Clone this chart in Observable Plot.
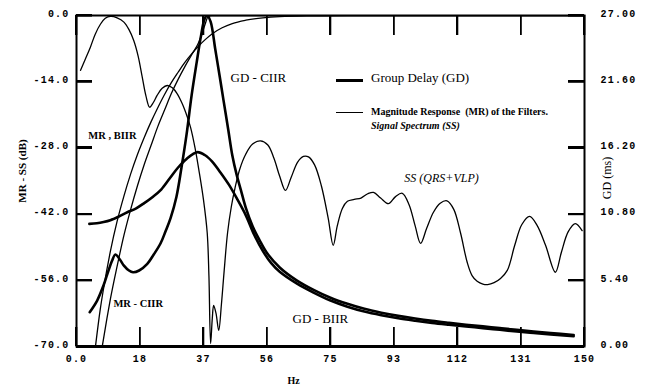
<!DOCTYPE html>
<html><head><meta charset="utf-8">
<script src="https://cdn.jsdelivr.net/npm/d3@7"></script>
<script src="https://cdn.jsdelivr.net/npm/@observablehq/plot@0.6"></script>
<style>
html,body{margin:0;padding:0;background:#fff;}
#wrap{position:relative;width:647px;height:389px;overflow:hidden;}
#wrap svg{position:absolute;left:0;top:0;}
g[aria-label="x-axis tick label"] text, g[aria-label="y-axis tick label"] text{letter-spacing:1.2px;}
.lg{position:absolute;font-family:'Liberation Serif','Times New Roman',serif;color:#000;white-space:pre;}
.ln{position:absolute;background:#000;}
</style></head><body>
<div id="wrap"></div>
<script>
// ---------- tick values / labels ----------
const xTicks = [0, 18.75, 37.5, 56.25, 75, 93.75, 112.5, 131.25, 150];
const xTickLabels = ["0.0", "18", "37", "56", "75", "93", "112", "131", "150"];
const dbTicks = [-70, -56, -42, -28, -14, 0];
const dbTickLabels = ["-70.0", "-56.0", "-42.0", "-28.0", "-14.0", "0.0"];
const gdTicks = [0, 5.4, 10.8, 16.2, 21.6, 27];
const gdTickLabels = ["0.00", "5.40", "10.80", "16.20", "21.60", "27.00"];

// ---------- Signal spectrum SS (QRS+VLP), dB ----------
const ssHz = [1.2,2.5,4.1,5.5,7.1,8.5,10,12,14,15.5,16.9,18.2,19.4,20.5,21.6,22.7,23.8,25.3,26.8,28.3,29.7,31.2,32.7,33.7,35,36.3,37.5,38.6,39.1,39.6,40.1,40.5,41.2,42.0,42.8,43.6,44.6,45.7,46.8,48.2,50,52,54.3,56.5,58.3,60,61.7,63.4,65.3,67,68.5,70.3,72.3,74.3,75.8,77,78.5,80,82,84,86,87.7,89.8,92.1,94.2,96.2,98.2,100,101.6,103.4,105.4,107.4,109.4,111.4,113.4,115.4,116.8,118.3,120,121.4,123.3,125.2,127.2,129.4,131.5,133.8,136,138.5,141.4,143.2,145.2,147.3,149.3];
const ssDb = [-11.6,-9.4,-6.7,-4.0,-1.8,-0.6,-0.2,-0.5,-1.4,-3.0,-5.3,-8.6,-13.0,-17.0,-19.4,-18.4,-16.9,-15.4,-14.8,-15.3,-16.5,-18.6,-21.4,-23.7,-28.0,-33.4,-39.0,-46.0,-55.0,-69.4,-64.0,-61.3,-63.0,-66.6,-61.0,-54.0,-46.0,-40.5,-36.5,-32.5,-29.3,-27.2,-26.5,-27.4,-30.2,-34.0,-37.0,-34.2,-31.0,-29.8,-29.9,-31.6,-36.0,-42.8,-48.6,-44.5,-40.8,-39.3,-38.9,-38.6,-37.7,-37.4,-38.6,-39.8,-38.3,-37.6,-40.0,-44.5,-48.2,-45.0,-41.6,-39.7,-39.2,-41.0,-46.0,-52.3,-55.0,-56.2,-56.8,-56.9,-56.5,-55.6,-53.9,-48.6,-44.2,-42.5,-44.4,-48.6,-54.3,-50.0,-45.7,-44.0,-45.5];

// ---------- Magnitude responses, dB ----------
const mrBiirHz = [5.6,7,8,10,12,14,16,18,20,22,24,26,28,30,32,34,36,38,40,43,46,50,55,60,70,80,150];
const mrBiirDb = [-70,-62.2,-57.7,-49.9,-43.5,-38.2,-33.5,-29.4,-25.8,-22.5,-19.5,-16.7,-14.2,-12.0,-9.9,-8.1,-6.5,-5.1,-3.9,-2.6,-1.7,-1.0,-0.5,-0.24,-0.07,0,0];
const mrCiirHz = [7.6,9,10,12,14,16,18,20,22,24,26,28,30,32,34,36,37,38,38.8,40,150];
const mrCiirDb = [-70,-64,-60,-53,-46.5,-41,-36,-31.5,-27.5,-23.5,-20,-16.5,-13.5,-10.8,-8.3,-5.8,-4.0,-1.8,-0.3,0,0];

// ---------- Group delays, ms ----------
const gdBiirHz = [3.8,6,8,10,12.5,15,17.5,20,22.5,25,27.5,30,32.5,35.6,38,40,42.5,45,47.5,50,52.5,55,57.5,60,65,70,75,80,85,90,95,100,105,110,115,120,125,130,135,140,146.8];
const gdBiirMs = [10.0,10.05,10.15,10.3,10.6,10.95,11.25,11.7,12.2,12.8,13.7,14.6,15.3,15.85,15.6,15.1,14.2,13.2,12.0,10.7,9.1,7.8,6.8,6.1,5.15,4.4,3.75,3.25,2.85,2.55,2.3,2.1,1.92,1.77,1.63,1.5,1.36,1.22,1.1,0.98,0.84];
const gdCiirHz = [3.9,6.1,8,9.1,10.5,11.5,12.8,14,15.5,16.7,18.5,20.9,22.8,24.8,26.3,27.8,29.5,31,32.5,34,35.5,36.8,37.8,38.6,39.6,41,42.3,43.4,44.8,46,47.3,48.5,50,52,54,56.3,60,65,70,75,80,85,90,95,100,105,110,115,120,125,130,135,140,146.8];
const gdCiirMs = [2.8,3.75,5.0,5.9,7.0,7.5,7.1,6.6,6.2,6.06,6.2,6.74,7.5,8.4,9.4,10.5,12.2,14.6,17.3,20.5,23.2,25.4,26.7,27.0,26.5,24.2,22.0,20.1,17.7,15.6,14.0,12.8,11.3,9.8,8.7,7.6,6.45,5.4,4.62,3.98,3.48,3.07,2.76,2.5,2.28,2.09,1.93,1.78,1.64,1.5,1.36,1.23,1.1,0.94];

// ---------- in-plot annotations (Hz, dB) ----------
const annText = ["GD - CIIR", "MR , BIIR", "MR - CIIR", "GD - BIIR", "SS (QRS+VLP)"];
const annHz = [45.5, 3.5, 10.9, 63.8, 96.8];
const annDb = [-13.1, -25.4, -60.9, -64.1, -34.5];

// ---------- helpers ----------
const W = 647, H = 389, mL = 76, mR = 63, mT = 15, mB = 43;
const fw = W - mL - mR, fh = H - mT - mB;
const gdToDb = g => g * 70 / 27 - 70;
const rows = (xs, ys) => xs.map((x, i) => ({x, y: ys[i]}));
const serif = "'Liberation Serif','Times New Roman',serif";
const mono = "'Liberation Mono','Courier New',monospace";
const gdPos = gdTicks.map(gdToDb);
const fmtX = d => xTickLabels[xTicks.findIndex(v => Math.abs(v - d) < 1e-6)];
const fmtDb = d => dbTickLabels[dbTicks.findIndex(v => Math.abs(v - d) < 1e-6)];
const fmtGd = d => gdTickLabels[gdPos.findIndex(v => Math.abs(v - d) < 1e-6)];
const ann = i => [{t: annText[i], x: annHz[i], y: annDb[i]}];

const thin = {x: "x", y: "y", stroke: "#000", strokeWidth: 1.3, clip: true};
const thick = {x: "x", y: "y", stroke: "#000", strokeWidth: 2.6, clip: true, curve: "catmull-rom", strokeLinejoin: "round"};

const chart = Plot.plot({
  width: W, height: H,
  marginLeft: mL, marginRight: mR, marginTop: mT, marginBottom: mB,
  x: {domain: [0, 150]},
  y: {domain: [-70, 0]},
  style: {background: "#fff", color: "#000", fontFamily: serif, fontSize: "10px"},
  marks: [
    Plot.line(rows(ssHz, ssDb), {...thin, curve: "catmull-rom"}),
    Plot.line(rows(mrBiirHz, mrBiirDb), {...thin, curve: "monotone-x"}),
    Plot.line(rows(mrCiirHz, mrCiirDb), {...thin, curve: "monotone-x"}),
    Plot.line(rows(gdBiirHz, gdBiirMs.map(gdToDb)), thick),
    Plot.line(rows(gdCiirHz, gdCiirMs.map(gdToDb)), thick),
    Plot.frame({stroke: "#000", strokeWidth: 2}),
    Plot.ruleY([dbTicks[0]], {stroke: "#000", strokeWidth: 3}),
    // inward ticks (rules inset to a short length)
    Plot.ruleX(xTicks, {stroke: "#000", strokeWidth: 1.6, insetTop: fh - 19}),
    Plot.ruleX(xTicks, {stroke: "#000", strokeWidth: 1.6, insetBottom: fh - 20}),
    Plot.ruleY(dbTicks, {stroke: "#000", strokeWidth: 2.2, insetRight: fw - 16}),
    Plot.ruleY(gdPos, {stroke: "#000", strokeWidth: 2.2, insetLeft: fw - 16}),
    // tick labels
    Plot.axisX(xTicks, {anchor: "bottom", tickSize: 0, tickPadding: 8, tickFormat: fmtX, label: null, fontFamily: mono, fontWeight: "bold", fontSize: 10}),
    Plot.axisY(dbTicks, {anchor: "left", tickSize: 0, tickPadding: 7, tickFormat: fmtDb, label: null, dy: -2, fontFamily: mono, fontWeight: "bold", fontSize: 10}),
    Plot.axisY(gdPos, {anchor: "right", tickSize: 0, tickPadding: 16, tickFormat: fmtGd, label: null, dy: -2, fontFamily: mono, fontWeight: "bold", fontSize: 10}),
    // axis titles
    Plot.text(["MR - SS (dB)"], {frameAnchor: "left", textAnchor: "middle", dx: -54, dy: -10, rotate: -90, fontWeight: "bold", fontSize: 11, fontFamily: serif}),
    Plot.text(["GD (ms)"], {frameAnchor: "right", textAnchor: "middle", dx: 23, dy: -3, rotate: -90, fontSize: 12, fontFamily: serif}),
    Plot.text(["Hz"], {frameAnchor: "bottom", textAnchor: "middle", dx: -37, dy: 37, fontWeight: "bold", fontSize: 10, fontFamily: serif}),
    // annotations
    Plot.text(ann(0), {x: "x", y: "y", text: "t", textAnchor: "start", fontSize: 13, fontFamily: serif}),
    Plot.text(ann(1), {x: "x", y: "y", text: "t", textAnchor: "start", fontSize: 10.5, fontWeight: "bold", fontFamily: serif}),
    Plot.text(ann(2), {x: "x", y: "y", text: "t", textAnchor: "start", fontSize: 10.5, fontWeight: "bold", fontFamily: serif}),
    Plot.text(ann(3), {x: "x", y: "y", text: "t", textAnchor: "start", fontSize: 13, fontFamily: serif}),
    Plot.text(ann(4), {x: "x", y: "y", text: "t", textAnchor: "start", fontSize: 12, fontStyle: "italic", fontFamily: serif})
  ]
});
const wrap = document.getElementById("wrap");
wrap.appendChild(chart);

// legend overlay (inside the plot area, like the original)
const legendHTML = `
<div class="ln" style="left:336px;top:79px;width:27px;height:3px"></div>
<div class="lg" style="left:371px;top:71px;font-size:13px;line-height:13px">Group Delay (GD)</div>
<div class="ln" style="left:336px;top:112px;width:27px;height:1.4px"></div>
<div class="lg" style="left:371px;top:106.5px;font-size:10px;line-height:10px;font-weight:bold">Magnitude Response  (MR) of the Filters.</div>
<div class="lg" style="left:371px;top:121px;font-size:10px;line-height:10px;font-weight:bold;font-style:italic">Signal Spectrum (SS)</div>`;
const lg = document.createElement("div");
lg.innerHTML = legendHTML;
wrap.appendChild(lg);

// inward tick marks as overlay strokes, placed with the plot's own scales
try {
  const sx = chart.scale("x"), sy = chart.scale("y");
  const addTick = (l, t, w, h) => {
    const d = document.createElement("div");
    d.className = "ln";
    d.style.cssText = `left:${l}px;top:${t}px;width:${w}px;height:${h}px`;
    wrap.appendChild(d);
  };
  xTicks.forEach(v => {
    const px = sx.apply(v);
    addTick(px - 0.8, mT + fh - 19, 1.6, 19);
    addTick(px - 0.8, mT, 1.6, 20);
  });
  dbTicks.forEach(v => addTick(mL, sy.apply(v) - 1.1, 16, 2.2));
  gdPos.forEach(v => addTick(mL + fw - 16, sy.apply(v) - 1.1, 16, 2.2));
} catch (e) { /* keep the chart even if overlay ticks fail */ }
</script>
</body></html>
